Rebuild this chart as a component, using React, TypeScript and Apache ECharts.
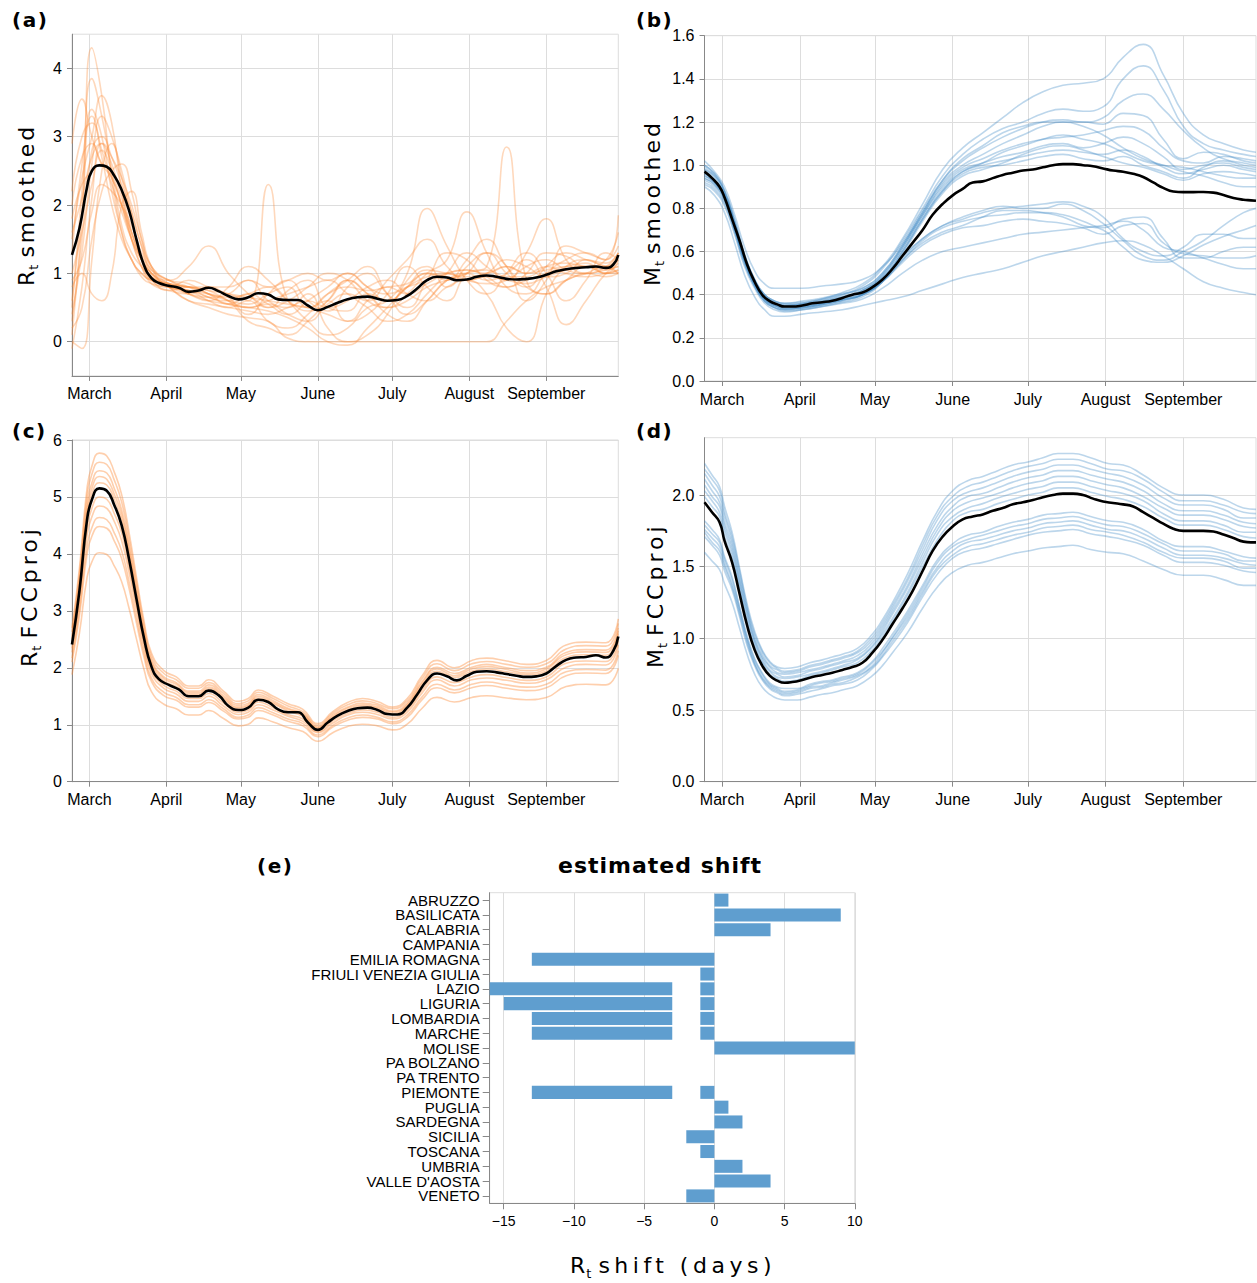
import React, { useEffect, useRef } from 'react';
import * as echarts from 'echarts';

// ---------- axes / ticks ----------
const monthLabels = ['March', 'April', 'May', 'June', 'July', 'August', 'September'];
const monthStartDays = [0, 31, 61, 92, 122, 153, 184]; // days since 1 March
const rtTicks = [0, 1, 2, 3, 4];
const mtTicks = [0, 0.2, 0.4, 0.6, 0.8, 1.0, 1.2, 1.4, 1.6];
const rtProjTicks = [0, 1, 2, 3, 4, 5, 6];
const mtProjTicks = [0, 0.5, 1.0, 1.5, 2.0];
const shiftTicks = [-15, -10, -5, 0, 5, 10];

// ---------- national (mean) curves ----------
const meanDays = [-7, -4, -1, 1, 4, 7, 10, 13, 16, 19, 22, 25, 28, 32, 36, 40, 44, 48, 52, 56, 60, 64, 68, 72, 76, 80, 84, 88, 92, 96, 100, 104, 108, 112, 116, 120, 124, 128, 132, 136, 140, 144, 148, 152, 156, 160, 164, 168, 172, 176, 180, 184, 188, 192, 196, 200, 204, 208, 211, 213];
const meanRt = [1.27, 1.66, 2.25, 2.50, 2.58, 2.56, 2.43, 2.22, 1.92, 1.49, 1.12, 0.93, 0.86, 0.82, 0.79, 0.73, 0.75, 0.79, 0.74, 0.67, 0.62, 0.65, 0.71, 0.69, 0.62, 0.61, 0.61, 0.53, 0.46, 0.51, 0.57, 0.62, 0.65, 0.66, 0.63, 0.60, 0.61, 0.67, 0.78, 0.90, 0.95, 0.94, 0.90, 0.91, 0.95, 0.97, 0.95, 0.92, 0.91, 0.92, 0.94, 0.98, 1.03, 1.06, 1.08, 1.09, 1.10, 1.08, 1.13, 1.27];
const meanMt = [0.97, 0.94, 0.90, 0.85, 0.75, 0.65, 0.54, 0.46, 0.40, 0.37, 0.355, 0.345, 0.345, 0.35, 0.36, 0.365, 0.372, 0.385, 0.40, 0.41, 0.435, 0.47, 0.52, 0.58, 0.64, 0.70, 0.77, 0.82, 0.86, 0.89, 0.92, 0.925, 0.94, 0.955, 0.965, 0.975, 0.98, 0.99, 1.00, 1.005, 1.005, 1.00, 0.995, 0.985, 0.975, 0.97, 0.96, 0.945, 0.92, 0.895, 0.878, 0.875, 0.875, 0.876, 0.873, 0.862, 0.848, 0.84, 0.837, 0.835];
const meanRtProj = [2.41, 3.35, 4.58, 4.95, 5.15, 5.11, 4.86, 4.50, 3.90, 3.20, 2.52, 2.02, 1.80, 1.70, 1.62, 1.50, 1.50, 1.60, 1.52, 1.33, 1.26, 1.30, 1.44, 1.40, 1.27, 1.22, 1.22, 1.04, 0.91, 1.04, 1.16, 1.24, 1.29, 1.30, 1.26, 1.19, 1.18, 1.30, 1.53, 1.78, 1.90, 1.85, 1.78, 1.86, 1.93, 1.94, 1.92, 1.89, 1.86, 1.84, 1.85, 1.90, 2.03, 2.14, 2.18, 2.19, 2.22, 2.18, 2.30, 2.55];
const meanMtProj = [1.95, 1.88, 1.81, 1.68, 1.53, 1.31, 1.09, 0.92, 0.81, 0.74, 0.705, 0.69, 0.695, 0.71, 0.73, 0.745, 0.76, 0.78, 0.80, 0.83, 0.90, 0.99, 1.10, 1.21, 1.33, 1.47, 1.61, 1.71, 1.78, 1.83, 1.85, 1.865, 1.89, 1.91, 1.935, 1.95, 1.965, 1.985, 2.00, 2.01, 2.01, 2.00, 1.975, 1.955, 1.945, 1.935, 1.92, 1.88, 1.84, 1.80, 1.765, 1.75, 1.75, 1.75, 1.745, 1.725, 1.70, 1.675, 1.67, 1.67];

// ---------- regional curves ----------
const regDays = [-7, -3, 1, 5, 9, 13, 17, 21, 25, 32, 40, 48, 56, 64, 72, 80, 88, 96, 104, 112, 120, 128, 136, 144, 152, 160, 168, 176, 184, 192, 200, 208, 213];
const regionalRt = [
  [0.1, 1.8, 4.3, 3.6, 2.4, 1.6, 1.2, 1.0, 0.9, 0.85, 0.8, 0.75, 0.6, 0.5, 0.55, 0.4, 0.3, 0.55, 0.7, 0.6, 0.9, 1.2, 1.5, 1.1, 0.9, 1.0, 1.2, 1.1, 0.95, 1.0, 1.2, 1.15, 1.3],
  [0.5, 2.2, 3.85, 3.3, 2.5, 1.7, 1.3, 1.1, 0.95, 0.8, 0.7, 0.65, 0.7, 0.9, 0.6, 0.5, 0.7, 0.2, 0.0, 0.1, 0.4, 0.9, 1.1, 0.8, 1.1, 1.3, 1.0, 0.8, 1.1, 1.3, 1.2, 1.1, 1.0],
  [2.9, 3.55, 3.0, 2.6, 2.4, 2.0, 1.5, 1.1, 0.9, 0.75, 0.8, 0.7, 0.55, 0.65, 0.5, 0.75, 0.9, 0.5, 0.45, 0.7, 0.6, 0.8, 0.95, 1.0, 0.9, 0.85, 0.9, 1.1, 1.2, 1.05, 1.0, 1.05, 1.1],
  [1.5, 2.4, 3.0, 3.6, 3.2, 2.2, 1.5, 1.1, 0.85, 0.75, 0.7, 0.8, 0.65, 0.4, 0.7, 0.9, 0.6, 0.45, 0.8, 1.0, 0.7, 0.5, 0.9, 1.3, 1.2, 0.9, 0.8, 1.0, 1.3, 1.25, 1.1, 1.2, 1.6],
  [0.0, -0.1, 1.2, 2.5, 2.9, 2.4, 1.8, 1.2, 0.9, 0.8, 0.9, 0.8, 0.7, 0.6, 2.3, 0.6, 0.5, 0.4, 0.3, 0.6, 0.8, 0.7, 0.85, 1.0, 1.05, 0.95, 0.8, 0.9, 1.0, 1.1, 1.15, 1.0, 1.05],
  [0.8, 1.0, 0.7, 0.6, 1.0, 2.0, 2.2, 1.6, 1.1, 0.8, 0.75, 0.6, 0.5, 0.6, 0.3, 0.2, 0.4, 0.7, 0.9, 1.1, 0.7, 0.4, 0.6, 0.9, 1.0, 1.3, 1.1, 0.6, 0.9, 1.4, 1.3, 1.2, 1.85],
  [1.3, 2.6, 3.3, 2.7, 2.0, 1.5, 1.2, 0.95, 0.85, 0.8, 0.75, 0.7, 0.65, 0.7, 0.8, 0.6, 0.45, 0.6, 0.9, 0.7, 0.5, 0.6, 0.8, 0.9, 1.0, 1.05, 0.95, 0.95, 1.1, 1.15, 1.1, 1.1, 1.2],
  [2.0, 2.7, 2.9, 2.6, 2.5, 2.2, 1.6, 1.2, 0.95, 0.85, 0.8, 0.75, 0.7, 0.65, 0.6, 0.55, 0.5, 0.7, 0.8, 0.75, 0.8, 0.85, 1.0, 0.95, 0.9, 0.95, 0.9, 0.85, 0.95, 1.05, 1.1, 1.05, 1.15],
  [0.3, 1.5, 2.8, 3.0, 2.7, 2.3, 1.9, 1.4, 1.0, 0.8, 0.6, 0.5, 0.4, 0.35, 0.3, 0.05, 0.0, 0.0, 0.0, 0.0, 0.0, 0.0, 0.0, 0.0, 0.0, 0.0, 0.3, 0.6, 0.8, 0.9, 1.0, 0.95, 1.0],
  [1.8, 2.3, 2.5, 2.6, 2.4, 2.0, 1.6, 1.25, 1.0, 0.9, 1.1, 1.4, 1.0, 0.7, 0.5, 0.6, 0.8, 1.0, 0.9, 0.6, 0.5, 0.7, 1.0, 1.2, 1.9, 1.3, 0.8, 0.7, 1.0, 1.2, 1.3, 1.2, 1.4],
  [0.6, 1.9, 3.4, 3.0, 2.2, 1.6, 1.2, 1.0, 0.9, 0.85, 0.7, 0.6, 0.8, 1.1, 0.9, 0.6, 0.3, 0.1, 0.2, 0.5, 0.6, 1.0, 1.95, 1.4, 0.9, 0.7, 1.0, 1.3, 1.0, 0.6, 0.9, 1.3, 1.2],
  [0.2, 0.5, 1.5, 2.2, 2.5, 2.6, 2.2, 1.5, 1.1, 0.9, 0.85, 0.7, 0.6, 0.55, 0.7, 0.8, 0.5, 0.6, 0.3, 0.4, 0.7, 1.1, 0.8, 0.6, 1.0, 1.1, 2.85, 0.9, 0.7, 0.9, 1.0, 1.1, 1.0],
  [1.0, 1.6, 2.3, 2.8, 2.5, 2.0, 1.5, 1.2, 1.0, 0.8, 0.6, 0.55, 0.5, 0.45, 0.4, 0.5, 0.6, 0.5, 0.6, 0.8, 0.9, 0.7, 0.6, 0.8, 0.9, 0.7, 0.2, 0.0, 0.7, 1.1, 1.2, 1.1, 1.3],
  [2.2, 3.0, 3.2, 2.8, 2.3, 1.9, 1.5, 1.2, 1.0, 0.85, 0.8, 0.7, 0.6, 0.3, 0.2, 0.1, 0.3, 0.6, 0.9, 0.7, 0.4, 0.3, 0.6, 0.9, 1.0, 0.9, 1.0, 1.2, 0.8, 0.25, 0.6, 1.0, 1.1],
  [-0.1, 0.8, 2.1, 2.9, 2.6, 2.1, 1.6, 1.2, 0.95, 0.8, 0.75, 0.65, 0.55, 0.5, 0.45, 0.35, 0.2, 0.0, -0.05, 0.2, 0.5, 0.8, 1.05, 1.0, 0.95, 1.0, 1.1, 1.0, 1.1, 1.0, 0.95, 1.0, 1.05],
  [1.6, 2.1, 2.7, 2.9, 2.7, 2.4, 2.0, 1.5, 1.1, 0.9, 0.8, 0.65, 0.6, 0.7, 0.55, 0.4, 0.6, 0.8, 1.0, 0.8, 0.6, 0.8, 1.0, 0.9, 1.2, 1.5, 1.1, 0.8, 0.7, 0.9, 1.1, 1.0, 1.2],
  [0.9, 1.2, 1.9, 2.3, 2.2, 2.0, 1.7, 1.3, 1.05, 0.9, 0.8, 0.8, 0.8, 0.9, 0.8, 0.9, 1.0, 0.9, 1.0, 0.8, 0.7, 0.8, 0.9, 1.0, 1.05, 1.0, 1.1, 1.0, 1.05, 1.1, 1.1, 1.0, 1.0],
  [0.4, 1.3, 2.6, 3.3, 3.0, 2.5, 1.9, 1.4, 1.05, 0.85, 0.7, 0.6, 0.55, 0.5, 0.6, 0.7, 0.8, 0.9, 0.7, 0.5, 0.3, 0.4, 0.7, 1.0, 1.3, 1.1, 0.9, 1.3, 1.8, 1.2, 1.0, 1.1, 1.3],
];
const regionalMt = [
  [1.00, 0.96, 0.88, 0.74, 0.58, 0.46, 0.39, 0.36, 0.35, 0.36, 0.38, 0.41, 0.45, 0.53, 0.66, 0.82, 0.98, 1.08, 1.15, 1.22, 1.29, 1.34, 1.37, 1.38, 1.40, 1.50, 1.56, 1.42, 1.24, 1.14, 1.10, 1.07, 1.06],
  [0.98, 0.95, 0.88, 0.75, 0.59, 0.47, 0.40, 0.37, 0.355, 0.36, 0.375, 0.40, 0.44, 0.52, 0.65, 0.80, 0.95, 1.05, 1.12, 1.17, 1.20, 1.24, 1.26, 1.25, 1.27, 1.40, 1.46, 1.35, 1.18, 1.10, 1.07, 1.05, 1.04],
  [1.02, 0.97, 0.90, 0.77, 0.62, 0.51, 0.45, 0.43, 0.43, 0.43, 0.44, 0.45, 0.47, 0.53, 0.64, 0.79, 0.93, 1.02, 1.08, 1.13, 1.17, 1.20, 1.21, 1.20, 1.22, 1.30, 1.33, 1.26, 1.16, 1.08, 1.03, 1.01, 1.00],
  [0.96, 0.93, 0.86, 0.73, 0.58, 0.47, 0.40, 0.37, 0.36, 0.365, 0.38, 0.40, 0.43, 0.50, 0.63, 0.78, 0.92, 1.00, 1.05, 1.10, 1.14, 1.18, 1.20, 1.20, 1.19, 1.24, 1.23, 1.12, 1.03, 1.06, 1.05, 1.02, 1.01],
  [0.99, 0.95, 0.87, 0.73, 0.57, 0.46, 0.39, 0.36, 0.35, 0.355, 0.37, 0.39, 0.42, 0.49, 0.62, 0.77, 0.91, 0.99, 1.03, 1.07, 1.10, 1.12, 1.13, 1.14, 1.16, 1.18, 1.16, 1.08, 1.02, 1.01, 1.04, 1.03, 1.02],
  [0.95, 0.92, 0.85, 0.72, 0.57, 0.46, 0.39, 0.36, 0.345, 0.35, 0.365, 0.385, 0.42, 0.49, 0.62, 0.77, 0.90, 0.98, 1.01, 1.04, 1.06, 1.09, 1.10, 1.08, 1.10, 1.13, 1.10, 1.04, 0.98, 1.00, 1.01, 0.99, 0.98],
  [0.94, 0.91, 0.84, 0.71, 0.56, 0.45, 0.38, 0.35, 0.34, 0.345, 0.36, 0.38, 0.41, 0.48, 0.61, 0.76, 0.89, 0.97, 1.00, 1.02, 1.04, 1.06, 1.07, 1.06, 1.05, 1.07, 1.04, 0.99, 0.96, 0.98, 1.00, 0.98, 0.97],
  [0.97, 0.93, 0.86, 0.72, 0.56, 0.45, 0.38, 0.35, 0.335, 0.34, 0.355, 0.375, 0.40, 0.47, 0.60, 0.75, 0.88, 0.96, 0.99, 1.00, 1.02, 1.04, 1.05, 1.03, 1.02, 1.04, 1.00, 0.97, 0.94, 0.99, 1.02, 1.00, 0.99],
  [0.93, 0.90, 0.83, 0.70, 0.55, 0.44, 0.37, 0.34, 0.33, 0.335, 0.35, 0.37, 0.40, 0.47, 0.60, 0.75, 0.88, 0.97, 1.01, 1.06, 1.09, 1.12, 1.14, 1.12, 1.10, 1.06, 1.02, 1.00, 0.99, 0.97, 0.95, 0.94, 0.94],
  [1.00, 0.96, 0.88, 0.74, 0.58, 0.47, 0.40, 0.37, 0.36, 0.37, 0.385, 0.405, 0.43, 0.50, 0.63, 0.78, 0.93, 1.03, 1.09, 1.15, 1.18, 1.20, 1.20, 1.18, 1.14, 1.08, 1.03, 1.00, 0.97, 0.95, 0.92, 0.90, 0.90],
  [0.92, 0.89, 0.82, 0.69, 0.54, 0.44, 0.37, 0.34, 0.325, 0.33, 0.345, 0.365, 0.39, 0.46, 0.59, 0.74, 0.87, 0.95, 0.98, 1.01, 1.05, 1.08, 1.09, 1.07, 1.04, 1.01, 0.99, 0.96, 0.93, 0.96, 0.97, 0.96, 0.95],
  [0.90, 0.86, 0.78, 0.64, 0.49, 0.39, 0.33, 0.30, 0.30, 0.31, 0.32, 0.33, 0.35, 0.37, 0.39, 0.42, 0.45, 0.48, 0.50, 0.52, 0.55, 0.58, 0.60, 0.62, 0.64, 0.65, 0.63, 0.58, 0.52, 0.46, 0.43, 0.41, 0.40],
  [0.91, 0.88, 0.81, 0.68, 0.53, 0.43, 0.36, 0.33, 0.32, 0.33, 0.345, 0.36, 0.38, 0.43, 0.50, 0.56, 0.60, 0.62, 0.64, 0.66, 0.68, 0.69, 0.70, 0.71, 0.72, 0.74, 0.70, 0.62, 0.60, 0.57, 0.54, 0.52, 0.52],
  [0.95, 0.92, 0.85, 0.71, 0.56, 0.45, 0.38, 0.35, 0.335, 0.34, 0.355, 0.375, 0.40, 0.46, 0.56, 0.64, 0.69, 0.72, 0.76, 0.79, 0.79, 0.78, 0.76, 0.72, 0.70, 0.62, 0.56, 0.55, 0.58, 0.63, 0.67, 0.70, 0.72],
  [0.97, 0.93, 0.86, 0.72, 0.57, 0.46, 0.39, 0.36, 0.345, 0.35, 0.365, 0.385, 0.41, 0.47, 0.57, 0.66, 0.72, 0.76, 0.79, 0.81, 0.80, 0.80, 0.82, 0.79, 0.73, 0.65, 0.58, 0.56, 0.60, 0.65, 0.72, 0.78, 0.80],
  [0.94, 0.91, 0.84, 0.70, 0.55, 0.44, 0.37, 0.34, 0.33, 0.34, 0.355, 0.375, 0.40, 0.46, 0.56, 0.65, 0.71, 0.74, 0.76, 0.77, 0.78, 0.78, 0.77, 0.74, 0.71, 0.75, 0.76, 0.66, 0.57, 0.57, 0.60, 0.62, 0.62],
  [0.96, 0.92, 0.85, 0.71, 0.56, 0.45, 0.38, 0.35, 0.34, 0.345, 0.36, 0.38, 0.40, 0.46, 0.55, 0.63, 0.68, 0.71, 0.72, 0.74, 0.75, 0.74, 0.73, 0.71, 0.68, 0.72, 0.73, 0.64, 0.59, 0.58, 0.57, 0.57, 0.58],
  [0.98, 0.94, 0.86, 0.72, 0.57, 0.46, 0.39, 0.36, 0.35, 0.355, 0.37, 0.39, 0.42, 0.48, 0.58, 0.66, 0.72, 0.75, 0.78, 0.80, 0.81, 0.82, 0.83, 0.81, 0.76, 0.66, 0.60, 0.58, 0.62, 0.68, 0.68, 0.66, 0.66],
];

const projDays = [-7, -4, -1, 1, 4, 7, 10, 13, 16, 19, 22, 25, 30, 35, 40, 44, 48, 54, 60, 64, 68, 74, 80, 86, 92, 98, 104, 110, 116, 122, 128, 134, 140, 147, 154, 160, 168, 176, 184, 192, 200, 208, 213];
const regionalRtProj = [
  [2.70, 3.75, 5.13, 5.54, 5.77, 5.72, 5.44, 5.04, 4.37, 3.58, 2.82, 2.26, 1.95, 1.84, 1.68, 1.68, 1.79, 1.59, 1.41, 1.46, 1.61, 1.50, 1.37, 1.27, 1.02, 1.23, 1.39, 1.46, 1.41, 1.31, 1.46, 1.86, 2.13, 2.00, 2.13, 2.17, 2.12, 2.06, 2.13, 2.40, 2.45, 2.44, 2.86],
  [2.63, 3.65, 4.99, 5.40, 5.61, 5.57, 5.30, 4.91, 4.25, 3.49, 2.75, 2.20, 1.90, 1.79, 1.64, 1.64, 1.74, 1.55, 1.37, 1.42, 1.57, 1.46, 1.33, 1.23, 0.99, 1.20, 1.35, 1.42, 1.37, 1.28, 1.42, 1.81, 2.07, 1.95, 2.07, 2.11, 2.06, 2.01, 2.07, 2.33, 2.39, 2.38, 2.78],
  [2.55, 3.55, 4.85, 5.25, 5.46, 5.42, 5.15, 4.77, 4.13, 3.39, 2.67, 2.14, 1.84, 1.74, 1.59, 1.59, 1.70, 1.51, 1.34, 1.38, 1.53, 1.42, 1.29, 1.20, 0.96, 1.17, 1.31, 1.38, 1.34, 1.24, 1.38, 1.76, 2.01, 1.90, 2.01, 2.06, 2.00, 1.95, 2.01, 2.27, 2.32, 2.31, 2.70],
  [2.51, 3.48, 4.76, 5.15, 5.36, 5.31, 5.05, 4.68, 4.06, 3.33, 2.62, 2.10, 1.81, 1.71, 1.56, 1.56, 1.66, 1.48, 1.31, 1.35, 1.50, 1.39, 1.27, 1.18, 0.95, 1.14, 1.29, 1.35, 1.31, 1.22, 1.35, 1.73, 1.98, 1.86, 1.98, 2.02, 1.97, 1.91, 1.98, 2.23, 2.28, 2.27, 2.65],
  [2.46, 3.42, 4.67, 5.05, 5.25, 5.21, 4.96, 4.59, 3.98, 3.26, 2.57, 2.06, 1.77, 1.67, 1.53, 1.53, 1.63, 1.45, 1.29, 1.33, 1.47, 1.37, 1.24, 1.15, 0.93, 1.12, 1.26, 1.33, 1.29, 1.19, 1.33, 1.69, 1.94, 1.83, 1.94, 1.98, 1.93, 1.88, 1.94, 2.18, 2.23, 2.22, 2.60],
  [2.34, 3.25, 4.44, 4.80, 5.00, 4.96, 4.71, 4.37, 3.78, 3.10, 2.44, 1.96, 1.69, 1.59, 1.46, 1.46, 1.55, 1.38, 1.22, 1.26, 1.40, 1.30, 1.18, 1.10, 0.88, 1.07, 1.20, 1.26, 1.22, 1.13, 1.26, 1.61, 1.84, 1.74, 1.84, 1.88, 1.83, 1.78, 1.84, 2.08, 2.12, 2.11, 2.47],
  [2.27, 3.15, 4.31, 4.65, 4.84, 4.80, 4.57, 4.23, 3.67, 3.01, 2.37, 1.90, 1.64, 1.54, 1.41, 1.41, 1.50, 1.33, 1.18, 1.22, 1.35, 1.26, 1.15, 1.06, 0.86, 1.03, 1.17, 1.22, 1.18, 1.10, 1.22, 1.56, 1.79, 1.68, 1.79, 1.82, 1.78, 1.73, 1.79, 2.01, 2.06, 2.05, 2.40],
  [2.17, 3.02, 4.12, 4.46, 4.64, 4.60, 4.37, 4.05, 3.51, 2.88, 2.27, 1.82, 1.57, 1.48, 1.35, 1.35, 1.44, 1.28, 1.13, 1.17, 1.30, 1.21, 1.10, 1.02, 0.82, 0.99, 1.12, 1.17, 1.13, 1.05, 1.17, 1.49, 1.71, 1.61, 1.71, 1.75, 1.70, 1.66, 1.71, 1.93, 1.97, 1.96, 2.30],
  [2.10, 2.91, 3.98, 4.31, 4.48, 4.45, 4.23, 3.92, 3.39, 2.78, 2.19, 1.76, 1.51, 1.43, 1.31, 1.31, 1.39, 1.24, 1.10, 1.13, 1.25, 1.17, 1.06, 0.98, 0.79, 0.96, 1.08, 1.13, 1.10, 1.02, 1.13, 1.44, 1.65, 1.56, 1.65, 1.69, 1.64, 1.60, 1.65, 1.86, 1.91, 1.90, 2.22],
  [1.88, 2.61, 3.57, 3.86, 4.02, 3.99, 3.79, 3.51, 3.04, 2.50, 1.97, 1.58, 1.36, 1.28, 1.17, 1.17, 1.25, 1.11, 0.98, 1.01, 1.12, 1.05, 0.95, 0.88, 0.71, 0.86, 0.97, 1.01, 0.98, 0.91, 1.01, 1.29, 1.48, 1.40, 1.48, 1.51, 1.47, 1.44, 1.48, 1.67, 1.71, 1.70, 1.99],
];
const regionalMtProj = [
  [2.22, 2.14, 2.06, 1.92, 1.74, 1.49, 1.24, 1.05, 0.92, 0.84, 0.80, 0.79, 0.80, 0.83, 0.85, 0.87, 0.89, 0.93, 1.03, 1.13, 1.25, 1.45, 1.68, 1.89, 2.03, 2.10, 2.13, 2.17, 2.21, 2.23, 2.26, 2.29, 2.29, 2.26, 2.22, 2.21, 2.14, 2.05, 2.00, 2.00, 1.97, 1.91, 1.90],
  [2.18, 2.11, 2.03, 1.88, 1.71, 1.47, 1.22, 1.03, 0.91, 0.83, 0.79, 0.77, 0.78, 0.81, 0.83, 0.85, 0.87, 0.91, 1.01, 1.11, 1.23, 1.42, 1.65, 1.86, 1.99, 2.06, 2.09, 2.13, 2.17, 2.20, 2.22, 2.25, 2.25, 2.22, 2.18, 2.17, 2.11, 2.02, 1.96, 1.96, 1.93, 1.88, 1.87],
  [2.15, 2.07, 1.99, 1.85, 1.68, 1.44, 1.20, 1.01, 0.89, 0.81, 0.78, 0.76, 0.77, 0.80, 0.82, 0.84, 0.86, 0.90, 0.99, 1.09, 1.21, 1.40, 1.62, 1.83, 1.96, 2.02, 2.05, 2.09, 2.13, 2.16, 2.18, 2.21, 2.21, 2.18, 2.15, 2.13, 2.07, 1.98, 1.93, 1.93, 1.90, 1.84, 1.84],
  [2.11, 2.03, 1.95, 1.81, 1.65, 1.41, 1.18, 0.99, 0.87, 0.80, 0.76, 0.75, 0.76, 0.78, 0.80, 0.82, 0.84, 0.88, 0.97, 1.07, 1.19, 1.37, 1.59, 1.79, 1.92, 1.99, 2.01, 2.05, 2.09, 2.12, 2.14, 2.17, 2.17, 2.14, 2.11, 2.09, 2.03, 1.94, 1.89, 1.89, 1.86, 1.81, 1.80],
  [2.07, 1.99, 1.92, 1.78, 1.62, 1.39, 1.16, 0.98, 0.86, 0.78, 0.75, 0.73, 0.74, 0.77, 0.79, 0.81, 0.83, 0.86, 0.95, 1.05, 1.17, 1.35, 1.56, 1.76, 1.89, 1.95, 1.98, 2.01, 2.05, 2.08, 2.10, 2.13, 2.13, 2.10, 2.07, 2.05, 1.99, 1.91, 1.86, 1.86, 1.83, 1.78, 1.77],
  [2.03, 1.96, 1.88, 1.75, 1.59, 1.36, 1.13, 0.96, 0.84, 0.77, 0.73, 0.72, 0.73, 0.75, 0.77, 0.79, 0.81, 0.85, 0.94, 1.03, 1.14, 1.32, 1.53, 1.73, 1.85, 1.91, 1.94, 1.98, 2.01, 2.04, 2.06, 2.09, 2.09, 2.06, 2.03, 2.01, 1.96, 1.87, 1.82, 1.82, 1.79, 1.74, 1.74],
  [1.99, 1.92, 1.85, 1.71, 1.56, 1.34, 1.11, 0.94, 0.83, 0.75, 0.72, 0.70, 0.71, 0.74, 0.76, 0.78, 0.80, 0.83, 0.92, 1.01, 1.12, 1.30, 1.50, 1.69, 1.82, 1.88, 1.90, 1.94, 1.97, 2.00, 2.02, 2.05, 2.05, 2.02, 1.99, 1.97, 1.92, 1.84, 1.79, 1.79, 1.76, 1.71, 1.70],
  [1.82, 1.76, 1.69, 1.57, 1.43, 1.22, 1.02, 0.86, 0.76, 0.69, 0.66, 0.65, 0.65, 0.68, 0.70, 0.71, 0.73, 0.76, 0.84, 0.93, 1.03, 1.19, 1.37, 1.55, 1.66, 1.72, 1.74, 1.78, 1.81, 1.83, 1.86, 1.87, 1.88, 1.85, 1.82, 1.81, 1.76, 1.68, 1.64, 1.64, 1.61, 1.57, 1.56],
  [1.79, 1.73, 1.67, 1.55, 1.41, 1.21, 1.00, 0.85, 0.75, 0.68, 0.65, 0.63, 0.64, 0.67, 0.69, 0.70, 0.72, 0.75, 0.83, 0.91, 1.01, 1.17, 1.35, 1.53, 1.64, 1.69, 1.72, 1.75, 1.78, 1.80, 1.83, 1.84, 1.85, 1.82, 1.79, 1.78, 1.73, 1.66, 1.61, 1.61, 1.59, 1.54, 1.54],
  [1.76, 1.70, 1.64, 1.52, 1.38, 1.19, 0.99, 0.83, 0.73, 0.67, 0.64, 0.62, 0.63, 0.66, 0.67, 0.69, 0.71, 0.74, 0.81, 0.90, 1.00, 1.15, 1.33, 1.50, 1.61, 1.67, 1.69, 1.72, 1.75, 1.77, 1.80, 1.81, 1.82, 1.79, 1.76, 1.75, 1.70, 1.63, 1.58, 1.58, 1.56, 1.52, 1.51],
  [1.74, 1.67, 1.61, 1.50, 1.36, 1.17, 0.97, 0.82, 0.72, 0.66, 0.63, 0.61, 0.62, 0.65, 0.66, 0.68, 0.69, 0.73, 0.80, 0.88, 0.98, 1.13, 1.31, 1.48, 1.58, 1.64, 1.66, 1.69, 1.72, 1.74, 1.77, 1.78, 1.79, 1.76, 1.74, 1.72, 1.67, 1.60, 1.56, 1.56, 1.54, 1.49, 1.49],
  [1.71, 1.65, 1.58, 1.47, 1.34, 1.15, 0.95, 0.81, 0.71, 0.65, 0.62, 0.60, 0.61, 0.63, 0.65, 0.67, 0.68, 0.71, 0.79, 0.87, 0.96, 1.11, 1.29, 1.45, 1.56, 1.61, 1.63, 1.66, 1.69, 1.72, 1.74, 1.75, 1.76, 1.73, 1.71, 1.69, 1.65, 1.58, 1.53, 1.53, 1.51, 1.47, 1.46],
  [1.60, 1.54, 1.48, 1.38, 1.25, 1.07, 0.89, 0.75, 0.66, 0.61, 0.58, 0.57, 0.57, 0.59, 0.61, 0.62, 0.64, 0.67, 0.74, 0.81, 0.90, 1.04, 1.21, 1.36, 1.46, 1.51, 1.53, 1.56, 1.59, 1.61, 1.63, 1.64, 1.65, 1.62, 1.60, 1.59, 1.54, 1.48, 1.44, 1.44, 1.41, 1.37, 1.37],
];

// ---------- panel (e): estimated shift ----------
const regions = ['ABRUZZO', 'BASILICATA', 'CALABRIA', 'CAMPANIA', 'EMILIA ROMAGNA', 'FRIULI VENEZIA GIULIA', 'LAZIO', 'LIGURIA', 'LOMBARDIA', 'MARCHE', 'MOLISE', 'PA BOLZANO', 'PA TRENTO', 'PIEMONTE', 'PUGLIA', 'SARDEGNA', 'SICILIA', 'TOSCANA', 'UMBRIA', "VALLE D'AOSTA", 'VENETO'];
const shiftNear = [1, 9, 4, 0, -13, -1, -1, -1, -1, -1, 10, 0, 0, -1, 1, 2, -2, -1, 2, 4, -2];
const shiftGap = [0, 0, 0, 0, 0, 0, -2, -2, -2, -2, 0, 0, 0, -2, 0, 0, 0, 0, 0, 0, 0];
const shiftFar = [0, 0, 0, 0, 0, 0, -13, -12, -10, -10, 0, 0, 0, -10, 0, 0, 0, 0, 0, 0, 0];

// ---------- styling ----------
const ORANGE = '#fd8d3c';
const BLUE = '#3a87c4';
const BAR_BLUE = '#5f9ecf';
const TICK_FONT = 'Liberation Sans';
const TITLE_FONT = 'DejaVu Sans';
const letterSpacing: Record<string, number> = {
  '(a)': 1.5, '(b)': 1.5, '(c)': 1.5, '(d)': 1.5, '(e)': 1.5,
  'estimated shift': 1, 'smoothed': 3, 'FCCproj': 4, 'shift (days)': 4.5,
};

function pairs(days: number[], vals: number[]) {
  return days.map((d, i) => [d, vals[i]]);
}

function buildOption() {
  const ctx = document.createElement('canvas').getContext('2d') as CanvasRenderingContext2D;
  const measure = (t: string, size: number, weight = 'normal') => {
    ctx.font = `${weight} ${size}px "${TITLE_FONT}"`;
    return ctx.measureText(t).width;
  };

  const txt = (text: string, x: number, y: number, size: number, weight = 'normal') => ({
    type: 'text', x, y, silent: true,
    style: { text, fontSize: size, fontWeight: weight, fontFamily: TITLE_FONT, fill: '#000', align: 'left', verticalAlign: 'middle' },
  });

  const subTitle = (main: string, rest: string, x: number, y: number, vertical: boolean, subDy: number) => {
    const size = 22, sub = 13;
    const wMain = measure(main, size);
    const wSub = measure('t', sub);
    const wSpace = measure(' ', size);
    return {
      type: 'group', x, y, rotation: vertical ? Math.PI / 2 : 0,
      children: [
        txt(main, 0, 0, size),
        txt('t', wMain + 1, subDy, sub),
        txt(rest, wMain + 1 + wSub + wSpace, 0, size),
      ],
    };
  };

  const grids = [
    { left: 72, top: 34.2, width: 546.3, height: 341.7 },
    { left: 704.5, top: 35.7, width: 551.5, height: 345.3 },
    { left: 72, top: 440, width: 546.3, height: 341.7 },
    { left: 704.5, top: 437.7, width: 551.5, height: 344 },
    { left: 489.7, top: 892.7, width: 365.1, height: 310.6 },
  ].map((g) => ({ ...g, show: true, borderColor: '#ddd', borderWidth: 1, containLabel: false, outerBoundsMode: 'none' }));

  const axisLine = { show: true, onZero: false, lineStyle: { color: '#888', width: 1 } };
  const splitLine = { show: true, lineStyle: { color: '#ddd', width: 1 } };

  const timeAxis = (i: number) => ({
    type: 'value', gridIndex: i, min: -7, max: 213,
    axisLine,
    axisTick: { show: true, length: 5, customValues: monthStartDays, lineStyle: { color: '#888' } },
    axisLabel: {
      customValues: monthStartDays, fontSize: 16, fontFamily: TICK_FONT, color: '#000', margin: 10,
      formatter: (v: number) => monthLabels[monthStartDays.indexOf(v)] ?? '',
    },
    splitLine,
  });

  const valAxis = (i: number, min: number, max: number, ticks: number[], digits: number) => ({
    type: 'value', gridIndex: i, min, max,
    axisLine,
    axisTick: { show: true, length: 5, customValues: ticks, lineStyle: { color: '#888' } },
    axisLabel: {
      customValues: ticks, fontSize: 16, fontFamily: TICK_FONT, color: '#000', margin: 10,
      formatter: (v: number) => v.toFixed(digits),
    },
    splitLine,
  });

  const xAxis: any[] = [timeAxis(0), timeAxis(1), timeAxis(2), timeAxis(3), {
    type: 'value', gridIndex: 4, min: -16, max: 10,
    axisLine,
    axisTick: { show: true, length: 6, customValues: shiftTicks, lineStyle: { color: '#888' } },
    axisLabel: {
      customValues: shiftTicks, fontSize: 14, fontFamily: TICK_FONT, color: '#000', margin: 11,
      formatter: (v: number) => (v < 0 ? '\u2212' + Math.abs(v) : String(v)),
    },
    splitLine,
  }];

  const yAxis: any[] = [
    valAxis(0, -0.5, 4.5, rtTicks, 0),
    valAxis(1, 0, 1.6, mtTicks, 1),
    valAxis(2, 0, 6, rtProjTicks, 0),
    valAxis(3, 0, 2.4, mtProjTicks, 1),
    {
      type: 'category', gridIndex: 4, data: regions, inverse: true,
      axisLine,
      axisTick: { show: true, length: 7, alignWithLabel: true, interval: 0, lineStyle: { color: '#888' } },
      axisLabel: { interval: 0, fontSize: 15, fontFamily: TICK_FONT, color: '#000', margin: 10 },
      splitLine: { show: false },
    },
  ];

  const panel = (i: number, days: number[], lines: number[][], mean: number[], color: string, opacity: number) => [
    ...lines.map((vals) => ({
      type: 'line', xAxisIndex: i, yAxisIndex: i, data: pairs(days, vals), smooth: true, symbol: 'none',
      silent: true, z: 2, emphasis: { disabled: true },
      lineStyle: { color, width: 1.6, opacity },
    })),
    {
      type: 'line', xAxisIndex: i, yAxisIndex: i, data: pairs(meanDays, mean), smooth: true, symbol: 'none',
      silent: true, z: 3, emphasis: { disabled: true },
      lineStyle: { color: '#000', width: 2.6 },
    },
  ];

  const bar = (data: number[], color: string) => ({
    type: 'bar', xAxisIndex: 4, yAxisIndex: 4, stack: 'shift', data, barCategoryGap: '12%',
    silent: true, itemStyle: { color }, emphasis: { disabled: true },
  });

  const series: any[] = [
    ...panel(0, regDays, regionalRt, meanRt, ORANGE, 0.34),
    ...panel(1, regDays, regionalMt, meanMt, BLUE, 0.34),
    ...panel(2, projDays, regionalRtProj, meanRtProj, ORANGE, 0.42),
    ...panel(3, projDays, regionalMtProj, meanMtProj, BLUE, 0.34),
    bar(shiftNear, BAR_BLUE),
    bar(shiftGap, 'rgba(0,0,0,0)'),
    bar(shiftFar, BAR_BLUE),
  ];

  const graphic = [
    txt('(a)', 12, 20, 20, 'bold'),
    txt('(b)', 636, 20, 20, 'bold'),
    txt('(c)', 12, 431, 20, 'bold'),
    txt('(d)', 636, 431, 20, 'bold'),
    txt('(e)', 257, 866, 20, 'bold'),
    txt('estimated shift', 558, 865, 22, 'bold'),
    subTitle('R', 'smoothed', 26, 286, true, 7),
    subTitle('M', 'smoothed', 652, 286, true, 7),
    subTitle('R', 'FCCproj', 29, 667, true, 7),
    subTitle('M', 'FCCproj', 655, 668, true, 7),
    subTitle('R', 'shift (days)', 570, 1265, false, 8),
  ];

  return {
    animation: false,
    backgroundColor: '#fff',
    textStyle: { fontFamily: TICK_FONT },
    grid: grids,
    xAxis,
    yAxis,
    series,
    graphic,
  };
}

export default function App() {
  const ref = useRef<HTMLDivElement>(null);
  useEffect(() => {
    const el = ref.current;
    if (!el) return;
    const chart = echarts.init(el, null, { renderer: 'svg' });
    chart.setOption(buildOption() as any);
    const apply = () => {
      el.querySelectorAll('text').forEach((t) => {
        const s = letterSpacing[t.textContent ?? ''];
        if (s) t.setAttribute('letter-spacing', String(s));
      });
    };
    apply();
    chart.on('finished', apply);
    const timer = window.setTimeout(apply, 50);
    return () => {
      window.clearTimeout(timer);
      chart.dispose();
    };
  }, []);
  return (
    <div
      ref={ref}
      style={{ position: 'fixed', left: 0, top: 0, width: 1257, height: 1283, background: '#fff' }}
    />
  );
}
